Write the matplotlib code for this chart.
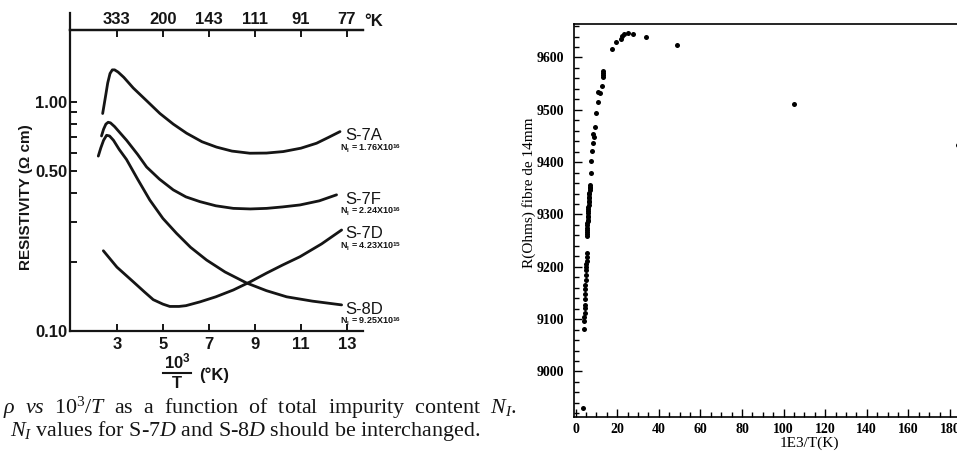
import matplotlib
matplotlib.use("Agg")
import matplotlib.pyplot as plt
from matplotlib.lines import Line2D
from matplotlib.ticker import MultipleLocator, FixedLocator, NullFormatter

plt.rcParams['mathtext.fontset'] = 'custom'
plt.rcParams['mathtext.rm'] = 'Liberation Serif'
plt.rcParams['mathtext.it'] = 'Liberation Serif:italic'
plt.rcParams['mathtext.bf'] = 'Liberation Serif:bold'
plt.rcParams['mathtext.sf'] = 'Liberation Sans:bold'

# --- left panel: scanned resistivity curves (10^3/T, rho in ohm cm) ---
s7a_x = [2.38, 2.45, 2.52, 2.6, 2.7, 2.8, 2.9, 3.05, 3.3, 3.71, 4.3, 4.87, 5.45, 6.03, 6.7, 7.33, 8.0, 8.78,
         9.5, 10.23, 11.0, 11.68, 12.2, 12.7]
s7a_y = [0.89, 0.98, 1.08, 1.21, 1.33, 1.38, 1.38, 1.35, 1.28, 1.15, 1.01, 0.89, 0.80, 0.73, 0.67, 0.635, 0.61,
         0.597, 0.598, 0.607, 0.628, 0.66, 0.70, 0.742]

s7f_x = [2.33, 2.42, 2.52, 2.62, 2.72, 2.9, 3.15, 3.42, 3.9, 4.29, 4.85, 5.45, 6.0, 6.61, 7.3, 8.06, 8.8, 9.51,
         10.2, 10.96, 11.8, 12.55]
s7f_y = [0.71, 0.76, 0.80, 0.815, 0.81, 0.78, 0.73, 0.68, 0.59, 0.52, 0.46, 0.413, 0.385, 0.367, 0.352, 0.343,
         0.341, 0.343, 0.348, 0.355, 0.37, 0.393]

s8d_x = [2.19, 2.3, 2.42, 2.55, 2.68, 2.85, 3.1, 3.42, 3.9, 4.43, 5.0, 5.59, 6.2, 6.9, 7.7, 8.64, 9.5, 10.38,
         11.5, 12.77]
s8d_y = [0.58, 0.63, 0.68, 0.715, 0.71, 0.68, 0.62, 0.56, 0.46, 0.373, 0.31, 0.267, 0.232, 0.204, 0.181, 0.162,
         0.150, 0.141, 0.135, 0.130]

s7d_x = [2.41, 3.0, 3.71, 4.2, 4.58, 5.0, 5.3, 5.7, 6.0, 6.61, 7.3, 8.06, 8.8, 9.51, 10.2, 10.96, 11.9, 12.77]
s7d_y = [0.224, 0.19, 0.164, 0.148, 0.137, 0.131, 0.128, 0.128, 0.129, 0.134, 0.141, 0.151, 0.164, 0.179, 0.194,
         0.211, 0.24, 0.276]

inv_ticks = [3, 5, 7, 9, 11, 13]
kelvin_labels = ['333', '200', '143', '111', '91', '77']

# --- right panel: R(Ohms) vs 1E3/T ---
r_x = [3.4,
       4.0, 4.1, 4.2, 4.3, 4.3, 4.4, 4.5, 4.6, 4.6, 4.7, 4.8, 4.9, 5.0, 5.1, 5.1, 5.2, 5.2, 5.3,
       5.3, 5.35, 5.4, 5.5, 5.5, 5.6, 5.6, 5.7, 5.75, 5.8, 5.9, 5.9, 6.0, 6.05, 6.1, 6.2, 6.25,
       6.3, 6.4, 6.45, 6.5, 6.6, 6.7, 6.75, 6.8, 6.9,
       7.2, 7.5, 8.0, 8.3, 8.6, 8.5, 9.1, 9.9, 10.9, 10.9, 11.7, 12.5, 13.0, 13.0, 13.0, 13.0,
       17.6, 19.4, 21.6, 22.4, 23.1, 25.0, 27.4, 33.8, 48.6, 105.0, 184.0]
r_y = [8930,
       9081, 9097, 9105, 9111, 9121, 9127, 9139, 9148, 9157, 9165, 9175, 9185, 9194, 9200, 9205, 9212, 9218, 9226,
       9258, 9262, 9267, 9271, 9274, 9279, 9283, 9287, 9290, 9295, 9298, 9303, 9306, 9311, 9314, 9319, 9323,
       9326, 9331, 9334, 9339, 9342, 9347, 9350, 9353, 9357,
       9380, 9402, 9421, 9437, 9449, 9454, 9467, 9494, 9515, 9534, 9533, 9545, 9562, 9567, 9571, 9575,
       9617, 9629, 9636, 9642, 9645, 9647, 9645, 9640, 9623, 9512, 9432]

r_xticks = [0, 20, 40, 60, 80, 100, 120, 140, 160, 180]
r_yticks = [9000, 9100, 9200, 9300, 9400, 9500, 9600]

W, H = 957, 453
fig = plt.figure(figsize=(W / 100, H / 100), dpi=100)


def px_text(px, py, s, **kw):
    return fig.text(px / W, 1 - py / H, s, **kw)


sans = 'Liberation Sans'
serif = 'Liberation Serif'
ink = '#151515'

# left panel
ax1 = fig.add_axes([70 / W, 1 - 331 / H, 293 / W, 301 / H])
ax1.set_yscale('log')
for xs, ys in [(s7a_x, s7a_y), (s7f_x, s7f_y), (s8d_x, s8d_y), (s7d_x, s7d_y)]:
    ax1.plot(xs, ys, color=ink, lw=2.0, solid_capstyle='round', solid_joinstyle='round')
ax1.set_xlim(0.96, 13.7)
ax1.set_ylim(0.1, 2.06)
ax1.spines['right'].set_visible(False)
for s in ['left', 'top', 'bottom']:
    ax1.spines[s].set_linewidth(1.6)
    ax1.spines[s].set_color(ink)
ax1.set_xticks(inv_ticks, labels=[str(t) for t in inv_ticks], fontsize=12, family=sans, fontweight='bold')
ax1.set_yticks([0.1, 0.5, 1.0], labels=['0.10', '0.50', '1.00'], fontsize=12, family=sans, fontweight='bold')
ax1.yaxis.set_minor_locator(FixedLocator([0.2, 0.3, 0.4, 0.6, 0.7, 0.8, 0.9]))
ax1.yaxis.set_minor_formatter(NullFormatter())
ax1.tick_params(axis='x', direction='in', length=5, width=1.4, pad=4, colors=ink)
ax1.tick_params(axis='y', which='both', direction='in', length=5, width=1.4, pad=2, colors=ink)
ax1.plot([0, 0], [1, 1.057], transform=ax1.transAxes, color=ink, lw=1.6, clip_on=False)

top = ax1.secondary_xaxis('top')
top.set_xticks(inv_ticks, labels=kelvin_labels, fontsize=12, family=sans, fontweight='bold')
top.tick_params(direction='in', length=5, width=1.4, pad=2, colors=ink)
top.spines['top'].set_linewidth(1.6)
px_text(364, 21, '°K', fontsize=12, family=sans, fontweight='bold', va='center', color=ink)

ax1.set_ylabel('RESISTIVITY (Ω cm)', fontsize=11, family=sans, fontweight='bold', color=ink)
ax1.yaxis.set_label_coords(-0.126, 0.445)

px_text(177, 362, r'$\mathsf{10^3}$', fontsize=12, ha='center', va='center', color=ink)
fig.add_artist(Line2D([163 / W, 191 / W], [1 - 373 / H, 1 - 373 / H], color=ink, lw=1.5))
px_text(177, 383, 'T', fontsize=12, family=sans, fontweight='bold', ha='center', va='center', color=ink)
px_text(199, 375, '(°K)', fontsize=12, family=sans, fontweight='bold', va='center', color=ink)

curve_labels = [('S-7A', 136, '1.76X10', '16', 149),
                ('S-7F', 199, '2.24X10', '16', 212),
                ('S-7D', 234, '4.23X10', '15', 247),
                ('S-8D', 309, '9.25X10', '16', 322)]
for name, py, mant, ex, npy in curve_labels:
    px_text(345, py, name, fontsize=12, family=sans, va='center', color=ink)
    px_text(340, npy, r'$\mathsf{N_I}$ = ' + mant + r'$^{\mathsf{' + ex + '}}$',
            fontsize=6.5, family=sans, fontweight='bold', va='center', color=ink)

px_text(3, 408, r'$\rho$  $vs$  10$^3$/$T$  as  a  function  of  total  impurity  content  $N_I$.',
        fontsize=15.8, family=serif, va='center', color=ink)
px_text(10, 431, r'$N_I$ values for S-7$D$ and S-8$D$ should be interchanged.',
        fontsize=15.8, family=serif, va='center', color=ink)

# right panel
ax2 = fig.add_axes([573.5 / W, 1 - 417 / H, 397.2 / W, 393 / H])
ax2.plot(r_x, r_y, 'o', color='black', ms=3.6, mew=0)
ax2.set_xlim(-1.06, 190)
ax2.set_ylim(8913, 9664)
ax2.set_xticks(r_xticks, labels=[str(t) for t in r_xticks], fontsize=10, family=serif, fontweight='bold')
ax2.set_yticks(r_yticks, labels=[str(t) for t in r_yticks], fontsize=10, family=serif, fontweight='bold')
ax2.xaxis.set_minor_locator(MultipleLocator(5))
ax2.yaxis.set_minor_locator(MultipleLocator(20))
ax2.tick_params(which='major', direction='in', length=6, width=1, top=False, right=False)
ax2.tick_params(which='minor', direction='in', length=3.5, width=1, top=False, right=False)
ax2.tick_params(axis='y', pad=7)
ax2.tick_params(axis='x', pad=4)
for s in ax2.spines.values():
    s.set_linewidth(1.2)
ax2.set_ylabel('R(Ohms) fibre de 14mm', fontsize=11, family=serif)
ax2.yaxis.set_label_coords(-0.094, 0.57)
ax2.set_xlabel('1E3/T(K)', fontsize=11, family=serif)
ax2.xaxis.set_label_coords(0.595, -0.05)

fig.savefig('out.png', dpi=100)
